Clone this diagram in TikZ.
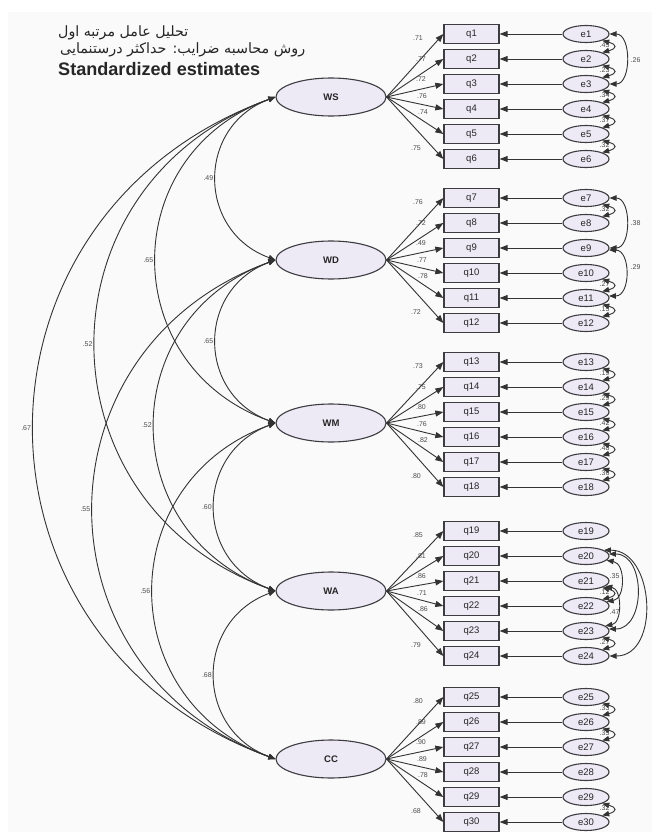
\documentclass[tikz,border=0pt]{standalone}
\usepackage{fontspec}
\usepackage{graphicx}
\setmainfont{Liberation Sans}
\newfontfamily\arabicfont[Script=Arabic]{DejaVu Sans}
\TeXXeTstate=1
\usetikzlibrary{arrows.meta,shapes.geometric,calc}
\definecolor{boxfill}{RGB}{237,233,245}
\definecolor{edgecol}{RGB}{60,60,65}
\definecolor{bgcol}{RGB}{250,250,250}
\newcommand\loadval[1]{\ifcase#1\or .71\or .77\or .72\or .76\or .74\or .75%
\or .76\or .72\or .49\or .77\or .78\or .72%
\or .73\or .75\or .80\or .76\or .82\or .80%
\or .85\or .81\or .86\or .71\or .86\or .79%
\or .80\or .89\or .90\or .89\or .78\or .68\fi}
\begin{document}
\begin{tikzpicture}[x=1pt,y=-1pt,
  latent/.style={ellipse, draw=edgecol, fill=boxfill, line width=1.1pt, minimum width=110pt, minimum height=38pt, inner sep=0pt, font=\fontsize{9.5}{10}\selectfont\bfseries, text=black!85},
  obs/.style={rectangle, draw=edgecol, fill=boxfill, line width=1.3pt, minimum width=55pt, minimum height=19pt, inner sep=0pt, font=\fontsize{9.5}{10}\selectfont, text=black!85},
  err/.style={ellipse, draw=edgecol, fill=boxfill, line width=1.1pt, minimum width=46pt, minimum height=17pt, inner sep=0pt, font=\fontsize{9.5}{10}\selectfont, text=black!85},
  reg/.style={draw=black!80, line width=0.9pt, -{Triangle[length=8pt,width=6pt]}},
  cov/.style={draw=black!80, line width=0.9pt, {Triangle[length=7pt,width=5.5pt]}-{Triangle[length=7pt,width=5.5pt]}},
  lab/.style={font=\fontsize{7}{8}\selectfont, text=black!70, inner sep=0.5pt},
  ttl/.style={anchor=west, inner sep=0pt, text=black!85},
]
\path[use as bounding box] (0,0) rectangle (652,832);
\fill[white] (0,0) rectangle (652,832);
\fill[bgcol] (8,12) rectangle (652,832);

% title
\node[ttl] (t1) at (58,33) {\resizebox{130pt}{!}{\arabicfont\beginR تحلیل عامل مرتبه اول\endR}};
\node[ttl] (t2) at (60,50) {\resizebox{245pt}{!}{\arabicfont\beginR روش محاسبه ضرایب: حداکثر درستنمایی\endR}};
\node[ttl] (t3) at (58,69) {\resizebox{202pt}{!}{\bfseries Standardized estimates}};

% latent variables
\node[latent] (WS) at (331,97) {WS};
\node[latent] (WD) at (331,260) {WD};
\node[latent] (WM) at (331,423) {WM};
\node[latent] (WA) at (331,591) {WA};
\node[latent] (CC) at (331,759) {CC};

% indicators and errors
\foreach \g/\base/\lat in {0/34/WS,1/198/WD,2/362/WM,3/531/WA,4/697/CC}{
  \foreach \k in {0,...,5}{
    \pgfmathtruncatemacro\i{6*\g+\k+1}
    \pgfmathsetmacro\yy{\base+25*\k}
    \pgfmathsetmacro\dx{{-26,-23,-23,-22,-21,-28}[\k]}
    \pgfmathsetmacro\dy{{4,0,-5,-13,-22,-11}[\k]}
    \node[obs] (q\i) at (471.5,\yy) {q\i};
    \node[err] (e\i) at (586,\yy) {e\i};
    \draw[reg] (e\i.west) -- (q\i.east);
    \draw[reg] (\lat.east) -- (q\i.west);
    \node[lab] (L\i) at ({444+\dx},{\yy+\dy}) {\loadval{\i}};
  }
}

% latent covariances
\draw[cov] (WS.west) .. controls +(-79,29) and +(-79,-29) .. node[lab,midway,left=2pt] {.49} (WD.west);
\draw[cov] (WD.west) .. controls +(-79,29) and +(-79,-29) .. node[lab,midway,left=2pt] {.65} (WM.west);
\draw[cov] (WM.west) .. controls +(-81,30) and +(-81,-30) .. node[lab,midway,left=2pt] {.60} (WA.west);
\draw[cov] (WA.west) .. controls +(-81,30) and +(-81,-30) .. node[lab,midway,left=2pt] {.68} (CC.west);
\draw[cov] (WS.west) .. controls +(-159,57) and +(-159,-57) .. node[lab,midway,left=2pt] {.65} (WM.west);
\draw[cov] (WD.west) .. controls +(-161,58) and +(-161,-58) .. node[lab,midway,left=2pt] {.52} (WA.west);
\draw[cov] (WM.west) .. controls +(-163,59) and +(-163,-59) .. node[lab,midway,left=2pt] {.56} (CC.west);
\draw[cov] (WS.west) .. controls +(-240,87) and +(-240,-87) .. node[lab,midway,left=2pt] {.52} (WA.west);
\draw[cov] (WD.west) .. controls +(-243,88) and +(-243,-88) .. node[lab,midway,left=2pt] {.55} (CC.west);
\draw[cov] (WS.west) .. controls +(-322,117) and +(-322,-117) .. node[lab,midway,left=2pt] {.67} (CC.west);

% error covariances between neighbours
\foreach \a/\b/\val in {1/2/.45,2/3/.23,3/4/.34,4/5/.37,5/6/.32,
  7/8/.32,10/11/.27,11/12/.15,
  13/14/.19,14/15/.29,15/16/.42,16/17/.48,17/18/.36,
  21/22/.12,23/24/.27,
  25/26/.33,26/27/.35,29/30/.32}{
  \draw[cov] (e\a.-22) .. controls +(15,4) and +(15,-4) .. (e\b.22);
  \path ($(e\a.east)!0.5!(e\b.east)$) ++(-5,-1) node[lab] (c\a) {\val};
}
% longer error covariances
\draw[cov] (e1.0) .. controls +(22,0) and +(22,0) .. (e3.0);
\path ($(e1.east)!0.5!(e3.east)$) ++(26,1) node[lab] (c1b) {.26};
\draw[cov] (e7.0) .. controls +(22,0) and +(22,0) .. (e9.0);
\path ($(e7.east)!0.5!(e9.east)$) ++(26,0) node[lab] (c7b) {.38};
\draw[cov] (e9.-5) .. controls +(22,0) and +(22,0) .. (e11.5);
\path ($(e9.east)!0.5!(e11.east)$) ++(26,-6) node[lab] (c9b) {.29};
\draw[cov] (e20.-12) .. controls +(19,3) and +(19,-3) .. (e22.12);
\path (e21.east) ++(5,-5) node[lab] (c20a) {.35};
\draw[cov] (e21.-15) .. controls +(17,3) and +(17,-3) .. (e23.15);
\path (e22.east) ++(5,6) node[lab] (c21a) {.47};
\draw[cov] (e20.5) .. controls +(37,0) and +(37,0) .. (e23.5);
\draw[cov] (e20.18) .. controls +(51,0) and +(51,0) .. (e24.0);
\end{tikzpicture}
\end{document}
